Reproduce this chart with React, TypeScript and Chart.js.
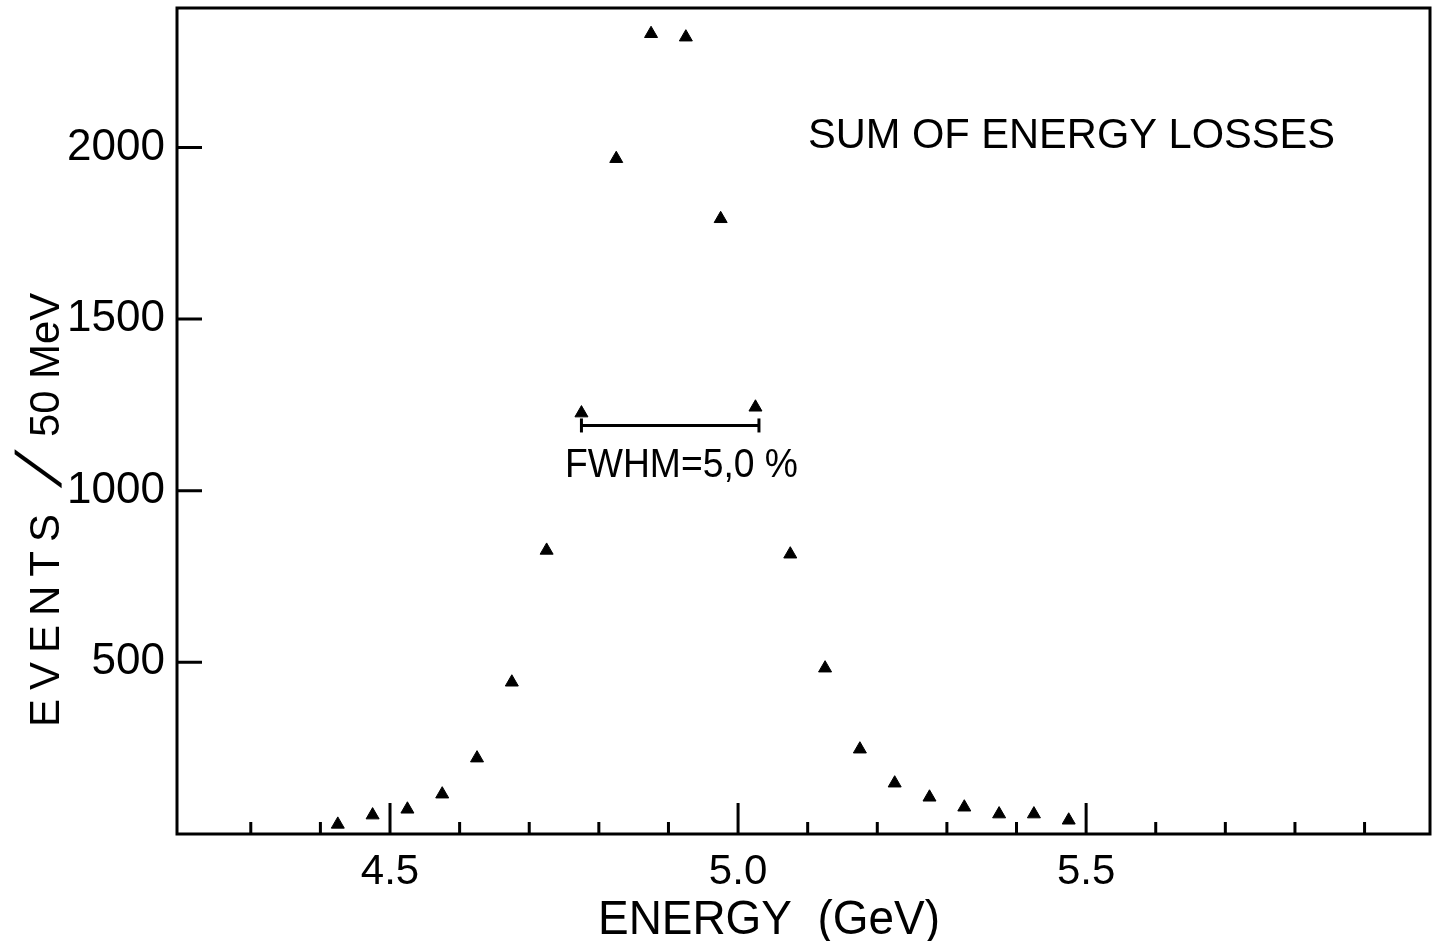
import React, { useEffect, useRef } from "react";
import { Chart, registerables } from "chart.js";

Chart.register(...registerables);

// ---- data ----
const energyGeV = [
  4.425, 4.475, 4.525, 4.575, 4.625, 4.675, 4.725, 4.775, 4.825, 4.875, 4.925,
  4.975, 5.025, 5.075, 5.125, 5.175, 5.225, 5.275, 5.325, 5.375, 5.425, 5.475,
];
const eventsPer50MeV = [
  28, 55, 72, 116, 221, 442, 826, 1226, 1967, 2331, 2321,
  1792, 1243, 815, 483, 247, 148, 107, 78, 58, 58, 40,
];
const xTickValues = [4.3, 4.4, 4.5, 4.6, 4.7, 4.8, 4.9, 5.0, 5.1, 5.2, 5.3, 5.4, 5.5, 5.6, 5.7, 5.8, 5.9];
const xLabelValues = [4.5, 5.0, 5.5];
const yTickValues = [500, 1000, 1500, 2000];
const fwhmEnergy = [4.775, 5.03];
const fwhmLevel = 1190;

const xTitle = "ENERGY  (GeV)";
const yTitleParts = ["EVENTS", "/", "50 MeV"];
const panelTitle = "SUM OF ENERGY LOSSES";
const fwhmText = "FWHM=5,0 %";

const FONT = "'Liberation Sans', Arial, sans-serif";

const overlayPlugin = {
  id: "overlay",
  afterDraw(chart: any) {
    const { ctx, chartArea: a, scales } = chart;
    const xs = scales.x;
    const ys = scales.y;
    ctx.save();
    ctx.strokeStyle = "#000";
    ctx.fillStyle = "#000";
    ctx.lineWidth = 3;
    ctx.lineCap = "butt";
    ctx.strokeRect(a.left, a.top, a.right - a.left, a.bottom - a.top);

    ctx.beginPath();
    xs.ticks.forEach((t: any) => {
      const px = xs.getPixelForValue(t.value);
      const major = xLabelValues.some((v) => Math.abs(v - t.value) < 1e-6);
      const len = major ? 31 : 12;
      ctx.moveTo(px, a.bottom);
      ctx.lineTo(px, a.bottom - len);
    });
    ys.ticks.forEach((t: any) => {
      const py = ys.getPixelForValue(t.value);
      ctx.moveTo(a.left, py);
      ctx.lineTo(a.left + 25, py);
    });
    ctx.stroke();

    // x-axis title
    ctx.font = `48px ${FONT}`;
    ctx.textAlign = "left";
    ctx.textBaseline = "alphabetic";
    ctx.fillText(xTitle, 598, 934, 342);

    // panel title
    ctx.font = `43px ${FONT}`;
    ctx.fillText(panelTitle, 808, 148, 527);

    // FWHM text
    ctx.font = `41px ${FONT}`;
    ctx.fillText(fwhmText, 565, 477, 233);

    // y-axis title (rotated)
    ctx.save();
    ctx.translate(47, 727);
    ctx.rotate(-Math.PI / 2);
    ctx.textBaseline = "middle";
    ctx.font = `42px ${FONT}`;
    (ctx as any).letterSpacing = "9px";
    ctx.fillText(yTitleParts[0], 0, 0);
    (ctx as any).letterSpacing = "0px";
    ctx.save();
    ctx.translate(254, 0);
    ctx.transform(1, 0, -0.45, 1, 0, 0);
    ctx.font = `64px ${FONT}`;
    ctx.textAlign = "center";
    ctx.fillText(yTitleParts[1], 0, -4);
    ctx.restore();
    ctx.font = `42px ${FONT}`;
    ctx.fillText(yTitleParts[2], 290, 0, 144);
    ctx.restore();

    ctx.restore();
  },
};

export default function App() {
  const canvasRef = useRef<HTMLCanvasElement | null>(null);

  useEffect(() => {
    if (!canvasRef.current) return;
    const points = energyGeV.map((x, i) => ({ x, y: eventsPer50MeV[i] }));
    const fwhmBar = fwhmEnergy.map((x) => ({ x, y: fwhmLevel }));
    const chart = new Chart(canvasRef.current, {
      type: "scatter",
      data: {
        datasets: [
          {
            label: "events",
            data: points,
            pointStyle: "triangle",
            pointRadius: 7.5,
            pointBackgroundColor: "#000",
            pointBorderColor: "#000",
            pointBorderWidth: 1,
            showLine: false,
          },
          {
            label: "FWHM",
            data: fwhmBar,
            showLine: true,
            borderColor: "#000",
            borderWidth: 3,
            pointStyle: "line",
            rotation: 90,
            pointRadius: 7,
            pointBorderColor: "#000",
            pointBorderWidth: 3,
          } as any,
        ],
      },
      options: {
        responsive: false,
        animation: false,
        layout: { autoPadding: false, padding: { top: 8, right: 3, left: 0, bottom: 0 } },
        plugins: {
          legend: { display: false },
          tooltip: { enabled: false },
        },
        scales: {
          x: {
            type: "linear",
            min: 4.194,
            max: 5.994,
            grid: { display: false, drawTicks: false },
            border: { display: false },
            afterBuildTicks: (s: any) => {
              s.ticks = xTickValues.map((value) => ({ value }));
            },
            afterFit: (s: any) => {
              s.height = 107;
              s.paddingLeft = 0;
              s.paddingRight = 0;
            },
            ticks: {
              autoSkip: false,
              maxRotation: 0,
              padding: 13,
              color: "#000",
              font: { family: FONT, size: 42 },
              callback: (v: any) => {
                const n = Number(v);
                return xLabelValues.some((l) => Math.abs(l - n) < 1e-6) ? n.toFixed(1) : "";
              },
            },
          },
          y: {
            type: "linear",
            min: 0,
            max: 2406,
            grid: { display: false, drawTicks: false },
            border: { display: false },
            afterBuildTicks: (s: any) => {
              s.ticks = yTickValues.map((value) => ({ value }));
            },
            afterFit: (s: any) => {
              s.width = 177;
              s.paddingTop = 0;
              s.paddingBottom = 0;
            },
            ticks: {
              autoSkip: false,
              padding: 12,
              color: "#000",
              font: { family: FONT, size: 44 },
              callback: (v: any) => String(v),
            },
          },
        },
      },
      plugins: [overlayPlugin],
    });
    return () => chart.destroy();
  }, []);

  return (
    <div style={{ position: "fixed", left: 0, top: 0, width: 1433, height: 941, background: "#fff" }}>
      <canvas ref={canvasRef} width={1433} height={941} style={{ display: "block" }} />
    </div>
  );
}
